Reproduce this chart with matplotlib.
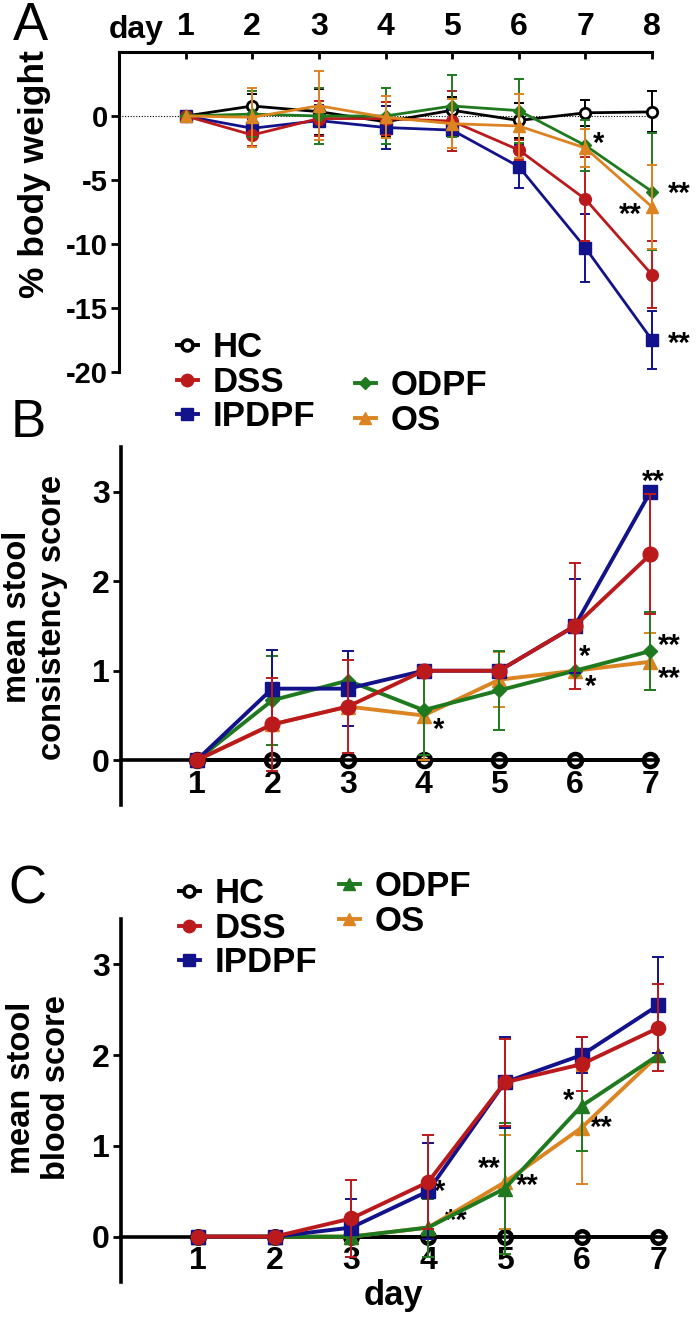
import matplotlib
matplotlib.use('Agg')
import matplotlib.pyplot as plt
from matplotlib.lines import Line2D
import numpy as np

NARROW = ['Liberation Sans Narrow', 'Liberation Sans', 'DejaVu Sans']
WIDE = ['Liberation Sans', 'DejaVu Sans']

groups = ['HC', 'DSS', 'IPDPF', 'ODPF', 'OS']
colors = {'HC': '#000000', 'DSS': '#bb1a1d', 'IPDPF': '#12128a', 'ODPF': '#1f7a1f', 'OS': '#dd8422'}
markers_ab = {'HC': 'o', 'DSS': 'o', 'IPDPF': 's', 'ODPF': 'D', 'OS': '^'}
markers_c = {'HC': 'o', 'DSS': 'o', 'IPDPF': 's', 'ODPF': '^', 'OS': '^'}

# ---- Panel A: % body weight, days 1-8
days_a = [1, 2, 3, 4, 5, 6, 7, 8]
wt_hc = [0, 0.78, 0.34, -0.45, 0.45, -0.35, 0.25, 0.32]
wt_hc_err = [0, 0.9, 1.8, 1.2, 1.0, 1.4, 1.0, 1.6]
wt_dss = [0, -1.48, -0.2, -0.2, -0.4, -2.65, -6.5, -12.4]
wt_dss_err = [0, 0.9, 1.4, 1.3, 2.35, 0.8, 3.3, 2.6]
wt_ipdpf = [0, -0.96, -0.36, -0.9, -1.1, -3.95, -10.3, -17.5]
wt_ipdpf_err = [0, 0.7, 1.2, 1.7, 1.6, 1.7, 2.65, 2.3]
wt_odpf = [0, 0.15, 0.0, 0.0, 0.78, 0.42, -2.3, -5.9]
wt_odpf_err = [0, 1.8, 2.2, 2.2, 2.4, 2.5, 2.0, 4.6]
wt_os = [0, -0.1, 0.8, -0.1, -0.6, -0.78, -2.5, -7.1]
wt_os_err = [0, 2.3, 2.7, 1.65, 1.9, 2.5, 1.5, 3.3]

# ---- Panel B: stool consistency, days 1-7
days_bc = [1, 2, 3, 4, 5, 6, 7]
sc_hc = [0, 0, 0, 0, 0, 0, 0]
sc_hc_err = [0, 0, 0, 0, 0, 0, 0]
sc_dss = [0, 0.4, 0.6, 1.0, 1.0, 1.5, 2.3]
sc_dss_err = [0, 0.52, 0.52, 0, 0, 0.7, 0.67]
sc_ipdpf = [0, 0.8, 0.8, 1.0, 1.0, 1.5, 3.0]
sc_ipdpf_err = [0, 0.43, 0.42, 0, 0, 0.53, 0]
sc_odpf = [0, 0.67, 0.89, 0.56, 0.78, 1.0, 1.22]
sc_odpf_err = [0, 0.5, 0, 0.5, 0.44, 0, 0.44]
sc_os = [0, 0.4, 0.6, 0.5, 0.9, 1.0, 1.1]
sc_os_err = [0, 0, 0, 0.5, 0.31, 0, 0.32]

# ---- Panel C: stool blood, days 1-7
bl_hc = [0, 0, 0, 0, 0, 0, 0]
bl_hc_err = [0, 0, 0, 0, 0, 0, 0]
bl_dss = [0, 0, 0.2, 0.6, 1.7, 1.9, 2.3]
bl_dss_err = [0, 0, 0.42, 0.52, 0.48, 0.3, 0.48]
bl_ipdpf = [0, 0, 0.1, 0.5, 1.7, 2.0, 2.55]
bl_ipdpf_err = [0, 0, 0.32, 0.53, 0.5, 0.2, 0.53]
bl_odpf = [0, 0, 0, 0.1, 0.53, 1.44, 2.0]
bl_odpf_err = [0, 0, 0, 0.32, 0.72, 0.5, 0]
bl_os = [0, 0, 0, 0.1, 0.6, 1.2, 2.0]
bl_os_err = [0, 0, 0, 0, 0.52, 0.62, 0]

yticks_a = [0, -5, -10, -15, -20]
yticks_bc = [0, 1, 2, 3]

# significance marks: (group, day, text, dx_pt, dy_pt)
sig_a = [('OS', 7, '*', 9.8, 3), ('ODPF', 8, '**', 19.4, -2), ('OS', 8, '**', -15.8, -5.5), ('IPDPF', 8, '**', 19.4, -2.5)]
sig_b = [('IPDPF', 7, '**', 2, 7), ('OS', 4, '*', 11, -10.5), ('ODPF', 6, '*', 7, 10), ('OS', 6, '*', 11, -11.5),
         ('ODPF', 7, '**', 13.7, 4), ('OS', 7, '**', 13.7, -12)]
sig_c = [('ODPF', 4, '*', 8.6, 26), ('ODPF', 4, '**', 20.5, 5), ('ODPF', 5, '**', -11.5, 14), ('ODPF', 5, '**', 15.8, 2),
         ('ODPF', 6, '*', -9.4, 3.3), ('OS', 6, '**', 14.4, -0.3)]

data_a = {'HC': (wt_hc, wt_hc_err), 'DSS': (wt_dss, wt_dss_err), 'IPDPF': (wt_ipdpf, wt_ipdpf_err),
          'ODPF': (wt_odpf, wt_odpf_err), 'OS': (wt_os, wt_os_err)}
data_b = {'HC': (sc_hc, sc_hc_err), 'DSS': (sc_dss, sc_dss_err), 'IPDPF': (sc_ipdpf, sc_ipdpf_err),
          'ODPF': (sc_odpf, sc_odpf_err), 'OS': (sc_os, sc_os_err)}
data_c = {'HC': (bl_hc, bl_hc_err), 'DSS': (bl_dss, bl_dss_err), 'IPDPF': (bl_ipdpf, bl_ipdpf_err),
          'ODPF': (bl_odpf, bl_odpf_err), 'OS': (bl_os, bl_os_err)}

W, H = 700, 1329
fig = plt.figure(figsize=(W / 100, H / 100), dpi=100)

SIZES = {'o': 8.5, 's': 8, 'D': 6, '^': 8.5}


def msize(g, mk):
    return 7.5 if g == 'HC' else SIZES[mk]


def fx(px):
    return px / W


def fy(py):
    return 1 - py / H


def draw_series(ax, days, data, order, mks, lw, ms_scale, elw, cap, hc_mew):
    for z, g in enumerate(order):
        vals, errs = data[g]
        x = np.array(days, float)
        y = np.array(vals, float)
        e = np.array(errs, float)
        c = colors[g]
        m = e > 0
        if m.any():
            ax.errorbar(x[m], y[m], yerr=e[m], fmt='none', ecolor=c, elinewidth=elw,
                        capsize=cap, capthick=elw, zorder=2 + z, clip_on=False)
        mfc = 'white' if g == 'HC' else c
        ax.plot(x, y, color=c, lw=lw, marker=mks[g], ms=msize(g, mks[g]) * ms_scale,
                mfc=mfc, mec=c, mew=hc_mew if g == 'HC' else 1, zorder=2.5 + z, clip_on=False)


def add_sig(ax, days, data, sigs, fs):
    for g, d, txt, dx, dy in sigs:
        v = data[g][0][days.index(d)]
        ax.annotate(txt, xy=(d, v), xytext=(dx, dy), textcoords='offset points',
                    ha='center', va='center', fontsize=fs, fontweight='bold', family=WIDE,
                    annotation_clip=False)


def legend_handle(g, mks):
    return Line2D([0], [0], color=colors[g], lw=2.8, marker=mks[g], ms=msize(g, mks[g]) * 1.05,
                  mfc='white' if g == 'HC' else colors[g], mec=colors[g], mew=2.6 if g == 'HC' else 1)


def add_legends(mks, glist1, glist2, x1, y1, x2, y2):
    for gl, x, y in ((glist1, x1, y1), (glist2, x2, y2)):
        fig.legend([legend_handle(g, mks) for g in gl], gl, loc='upper left',
                   bbox_to_anchor=(fx(x), fy(y)), bbox_transform=fig.transFigure,
                   frameon=False, borderpad=0, borderaxespad=0, handlelength=0.6,
                   handletextpad=0.42, labelspacing=0.05,
                   prop={'family': NARROW, 'weight': 'bold', 'size': 25})


tick_font = {'family': NARROW, 'weight': 'bold'}

# ================= Panel A
axA = fig.add_axes([fx(119), fy(372), fx(652) - fx(119), (372 - 52) / H])
axA.set_xlim(0, 8)
axA.set_ylim(-20, 5)
axA.axhline(0, color='black', lw=0.8, ls=(0, (1, 1.5)), zorder=1)
draw_series(axA, days_a, data_a, ['HC', 'IPDPF', 'DSS', 'ODPF', 'OS'], markers_ab, 2.0, 1.0, 1.4, 3.5, 2.0)
axA.spines['right'].set_visible(False)
axA.spines['bottom'].set_visible(False)
for s in ('left', 'top'):
    axA.spines[s].set_linewidth(2.2)
axA.xaxis.tick_top()
axA.set_xticks(days_a)
axA.set_xticklabels([str(d) for d in days_a], fontsize=23, **tick_font)
axA.tick_params(axis='x', direction='in', length=5, width=2, pad=7)
axA.set_yticks(yticks_a)
axA.set_yticklabels([str(v) for v in yticks_a], fontsize=21, **tick_font)
axA.tick_params(axis='y', direction='out', length=6, width=2, pad=2)
add_sig(axA, days_a, data_a, sig_a, 21)
fig.text(fx(136), fy(30), 'day', ha='center', va='center', fontsize=23, **tick_font)
fig.text(fx(35), fy(174), '% body weight', rotation=90, ha='center', va='center',
         fontsize=25.5, fontweight='bold', family=WIDE)
fig.text(fx(30), fy(26), 'A', ha='center', va='center', fontsize=38, family=NARROW)

add_legends(markers_ab, ['HC', 'DSS', 'IPDPF'], ['ODPF', 'OS'], 177, 331, 355, 369)


def setup_score_axes(ax):
    ax.set_xlim(0, 7.1)
    ax.set_ylim(-0.5, 3.5)
    ax.spines['right'].set_visible(False)
    ax.spines['top'].set_visible(False)
    ax.spines['bottom'].set_position(('data', 0))
    for s in ('left', 'bottom'):
        ax.spines[s].set_linewidth(2.6)
    ax.set_xticks(days_bc)
    ax.set_xticklabels([str(d) for d in days_bc], fontsize=23, **tick_font)
    ax.tick_params(axis='x', direction='out', length=0, width=2, pad=7)
    ax.set_yticks(yticks_bc)
    ax.set_yticklabels([str(v) for v in yticks_bc], fontsize=23, **tick_font)
    ax.tick_params(axis='y', direction='out', length=6, width=2, pad=2)


# ================= Panel B
axB = fig.add_axes([fx(121), fy(805), fx(658) - fx(121), (805 - 447) / H])
setup_score_axes(axB)
draw_series(axB, days_bc, data_b, ['HC', 'OS', 'ODPF', 'IPDPF', 'DSS'], markers_ab, 2.8, 1.25, 1.4, 4, 3.2)
add_sig(axB, days_bc, data_b, sig_b, 21)
fig.text(fx(35), fy(617), 'mean stool\nconsistency score', rotation=90, ha='center', va='center',
         fontsize=23.5, fontweight='bold', family=WIDE, linespacing=1.2)
fig.text(fx(28), fy(423), 'B', ha='center', va='center', fontsize=38, family=NARROW)

# ================= Panel C
axC = fig.add_axes([fx(121), fy(1282), fx(666) - fx(121), (1282 - 919) / H])
setup_score_axes(axC)
draw_series(axC, days_bc, data_c, ['HC', 'OS', 'ODPF', 'IPDPF', 'DSS'], markers_c, 2.8, 1.2, 1.4, 4, 3.2)
add_sig(axC, days_bc, data_c, sig_c, 21)
axC.set_xlabel('day', fontsize=25, labelpad=2, **tick_font)
fig.text(fx(39), fy(1088), 'mean stool\nblood score', rotation=90, ha='center', va='center',
         fontsize=23.5, fontweight='bold', family=WIDE, linespacing=1.2)
fig.text(fx(27), fy(889), 'C', ha='center', va='center', fontsize=38, family=NARROW)

add_legends(markers_c, ['HC', 'DSS', 'IPDPF'], ['ODPF', 'OS'], 179, 877, 339, 870)

fig.savefig('out.png', dpi=100)
